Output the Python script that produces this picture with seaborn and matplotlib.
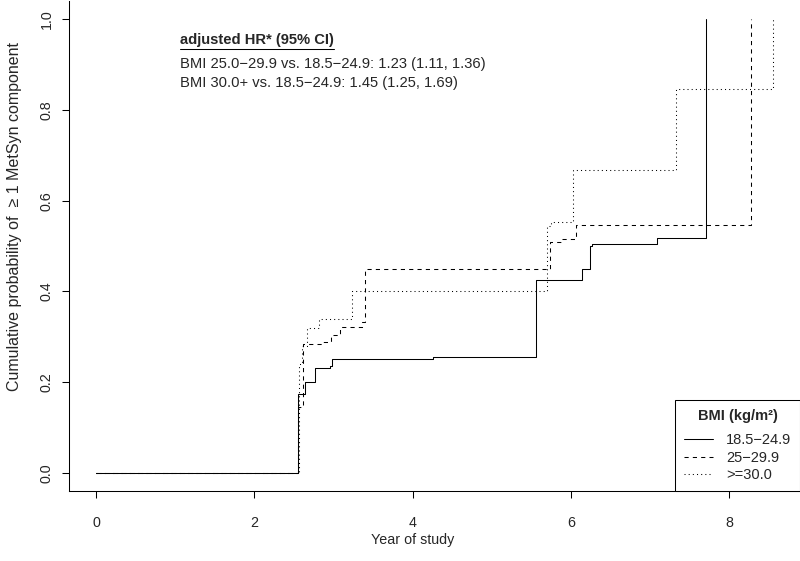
import matplotlib
matplotlib.use('Agg')
import pandas as pd
import matplotlib.pyplot as plt
import seaborn as sns
from matplotlib.lines import Line2D

# BMI groups (kg/m^2)
groups = ['18.5−24.9', '25−29.9', '>=30.0']

# cumulative incidence curves (year, probability)
years_normal = [0, 2.557, 2.64, 2.76, 2.96, 2.98, 4.25, 5.56, 6.14, 6.24, 6.27, 7.08, 7.70]
prob_normal = [0, 0.174, 0.200, 0.231, 0.236, 0.250, 0.255, 0.424, 0.449, 0.501, 0.504, 0.517, 1.0]

years_over = [0, 2.557, 2.62, 2.87, 2.97, 3.08, 3.36, 3.40, 5.73, 5.87, 6.06, 8.27]
prob_over = [0, 0.146, 0.283, 0.289, 0.304, 0.322, 0.333, 0.449, 0.509, 0.515, 0.546, 1.0]

years_obese = [0, 2.565, 2.60, 2.66, 2.82, 3.23, 5.69, 5.75, 6.02, 7.32, 8.55]
prob_obese = [0, 0.24, 0.28, 0.32, 0.34, 0.40, 0.544, 0.553, 0.667, 0.846, 1.0]

hr_header = 'adjusted HR* (95% CI)'
hr_lines = ['BMI 25.0−29.9 vs. 18.5−24.9: 1.23 (1.11, 1.36)',
            'BMI 30.0+ vs. 18.5−24.9: 1.45 (1.25, 1.69)']

sns.set_style('white')
plt.rcParams['font.family'] = ['Liberation Sans', 'DejaVu Sans']
plt.rcParams['font.size'] = 10.3

fig = plt.figure(figsize=(8, 5.61), dpi=100)
ax = fig.add_axes([69 / 800, 70 / 561, 731 / 800, 490 / 561])

styles = ['-', (0, (4, 4)), (0, (1, 3))]
curves = [(years_normal, prob_normal), (years_over, prob_over), (years_obese, prob_obese)]

for (yrs, prob), ls in zip(curves, styles):
    df = pd.DataFrame({'year': yrs, 'prob': prob})
    sns.lineplot(data=df, x='year', y='prob', ax=ax, estimator=None, sort=False,
                 drawstyle='steps-post', color='black', linewidth=0.75,
                 linestyle=ls, legend=False)

ax.set_xlim(-0.342, 8.892)
ax.set_ylim(-0.04, 1.04)
ax.set_xticks([0, 2, 4, 6, 8])
ax.set_yticks([0.0, 0.2, 0.4, 0.6, 0.8, 1.0])
ax.set_yticklabels(['0.0', '0.2', '0.4', '0.6', '0.8', '1.0'], rotation=90, va='center')
ax.tick_params(axis='both', direction='out', length=5, width=0.75, color='black',
               labelsize=10.3, left=True, bottom=True)
ax.tick_params(axis='x', pad=13)
ax.tick_params(axis='y', pad=6)

for side in ['top', 'right']:
    ax.spines[side].set_visible(False)
for side in ['left', 'bottom']:
    ax.spines[side].set_color('black')
    ax.spines[side].set_linewidth(0.75)

ax.set_xlabel('Year of study', fontsize=10.3)
ax.set_ylabel('Cumulative probability of  ≥ 1 MetSyn component', fontsize=11.5)
ax.xaxis.set_label_coords(0.47, -0.086)
ax.yaxis.set_label_coords(-0.064, 0.56)

# hazard ratio annotation
head = ax.text(1.06, 0.954, hr_header, fontweight='bold', va='center', fontsize=10.6)
ax.text(1.06, 0.902, hr_lines[0], va='center', fontsize=10.6)
ax.text(1.06, 0.860, hr_lines[1], va='center', fontsize=10.6)

fig.canvas.draw()
bb = head.get_window_extent(fig.canvas.get_renderer())
inv = ax.transData.inverted()
(x0, y0), (x1, _) = inv.transform([(bb.x0, bb.y0 - 2), (bb.x1, bb.y0)])
ax.plot([x0, x1], [y0, y0], color='black', linewidth=0.75)

handles = [Line2D([], [], color='black', linewidth=0.75, linestyle=ls) for ls in styles]
leg = ax.legend(handles, groups, title='BMI (kg/m²)', loc='lower right',
                bbox_to_anchor=(1.0, 0.0), frameon=True, fancybox=False,
                edgecolor='black', framealpha=1, borderaxespad=0,
                handlelength=2.0, handletextpad=0.9, labelspacing=0.25,
                borderpad=0.6, fontsize=10.5, title_fontsize=10.5)
leg.get_title().set_fontweight('bold')
leg.get_frame().set_linewidth(0.75)
leg._legend_box.sep = 7.5

fig.savefig('out.png', dpi=100)
